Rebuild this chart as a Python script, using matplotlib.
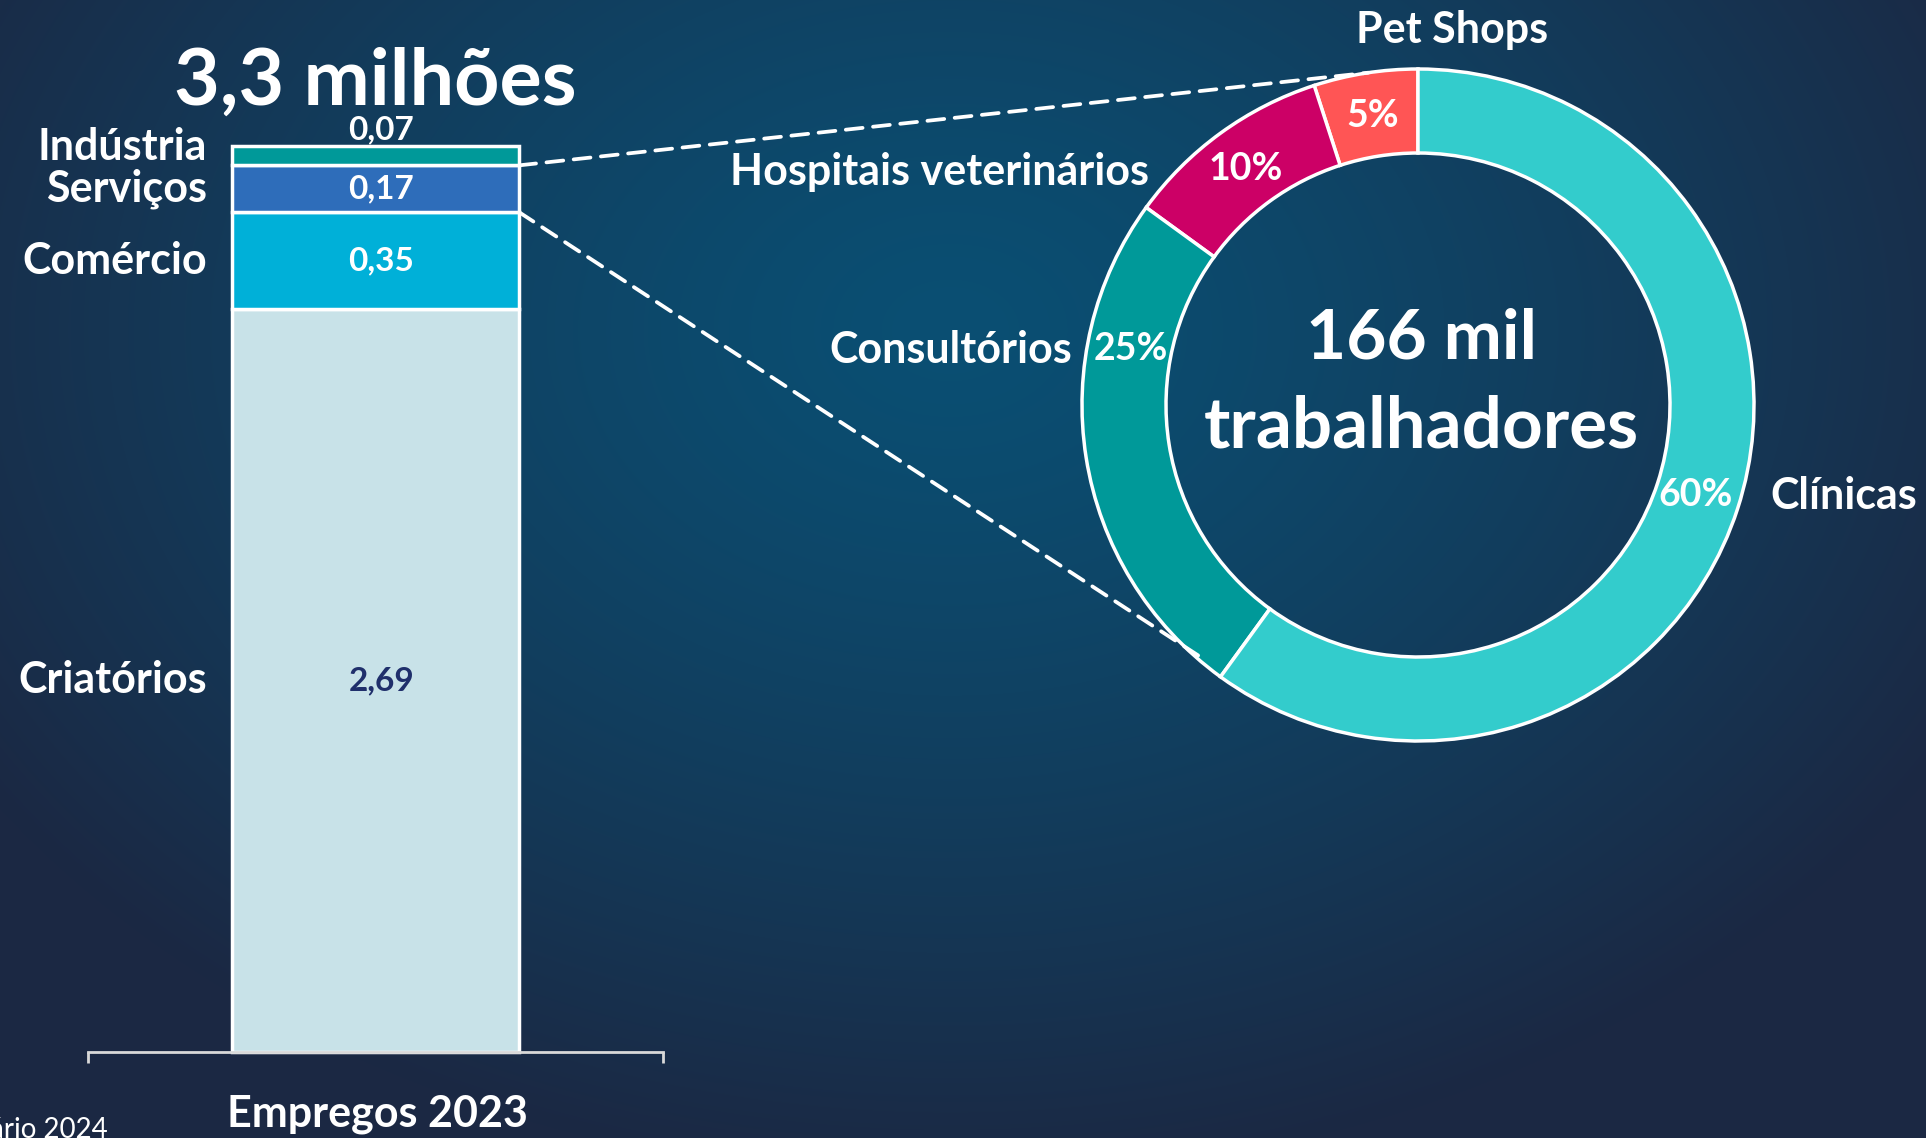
import numpy as np
import matplotlib
matplotlib.use('Agg')
import matplotlib.pyplot as plt
from matplotlib.patches import ConnectionPatch
from matplotlib.colors import to_rgb

# data
bar_cats = ['Criatórios', 'Comércio', 'Serviços', 'Indústria']
bar_vals = [2.69, 0.35, 0.17, 0.07]
bar_labels = ['2,69', '0,35', '0,17', '0,07']
bar_colors = ['#C8E2E8', '#00B0D8', '#2E6DBA', '#009999']

pie_cats = ['Pet Shops', 'Hospitais veterinários', 'Consultórios', 'Clínicas']
pie_vals = [5, 10, 25, 60]
pie_colors = ['#FF5555', '#CC0066', '#009999', '#33CCCC']

total_label = '3,3 milhões'
center_label = ['166 mil', 'trabalhadores']
bar_xlabel = 'Empregos 2023'
source_note = 'Anuário 2024'

plt.rcParams['font.family'] = ['Lato', 'DejaVu Sans']
plt.rcParams['font.weight'] = 'bold'

W, H = 1926, 1138
fig = plt.figure(figsize=(W / 100, H / 100), dpi=100)

# background radial gradient
ax_bg = fig.add_axes([0, 0, 1, 1])
ax_bg.set_zorder(-10)
yy, xx = np.mgrid[0:H, 0:W]
d = np.sqrt(((xx - 950) / 1150.0) ** 2 + ((yy - 330) / 850.0) ** 2)
d = np.clip(d, 0, 1) ** 1.3
c0 = np.array(to_rgb('#0A4F73'))
c1 = np.array(to_rgb('#1B2843'))
img = c0[None, None, :] * (1 - d[..., None]) + c1[None, None, :] * d[..., None]
ax_bg.imshow(img, aspect='auto', extent=[0, W, H, 0])
ax_bg.axis('off')

def px(x0, y0, w, h):
    # pixel box (from top-left) -> figure fraction rect
    return [x0 / W, 1 - (y0 + h) / H, w / W, h / H]

# stacked bar
ax = fig.add_axes(px(88, 146, 575, 906))
ax.set_facecolor('none')
bottom = 0
for cat, v, lab, col in zip(bar_cats, bar_vals, bar_labels, bar_colors):
    ax.bar(0.5, v, width=0.5, bottom=bottom, color=col, edgecolor='white', linewidth=2.5, clip_on=False)
    mid = bottom + v / 2
    if v < 0.1:
        ax.annotate(lab, (0.51, bottom + v), xytext=(0, 12), textcoords='offset points',
                    ha='center', va='center', color='white', fontsize=24)
        ax.annotate(cat, (0.207, mid), xytext=(0, 6), textcoords='offset points',
                    ha='right', va='center', color='white', fontsize=31)
    else:
        tc = '#1F2F6B' if v > 1 else 'white'
        ax.text(0.51, mid, lab, ha='center', va='center', color=tc, fontsize=24)
        ax.text(0.207, mid, cat, ha='right', va='center', color='white', fontsize=31)
    bottom += v
ax.set_xlim(0, 1)
ax.set_ylim(0, sum(bar_vals))
for s in ['top', 'left', 'right']:
    ax.spines[s].set_visible(False)
ax.spines['bottom'].set_color('#D9D9D9')
ax.spines['bottom'].set_linewidth(2)
ax.set_xticks([0, 1])
ax.set_xticklabels(['', ''])
ax.tick_params(axis='x', direction='out', length=8, width=2, color='#D9D9D9')
ax.set_yticks([])

ax.annotate(total_label, (0.5, sum(bar_vals)), xytext=(0, 30), textcoords='offset points',
            ha='center', va='baseline', color='white', fontsize=57)
fig.text(377 / W, 1 - 1114 / H, bar_xlabel, ha='center', va='center', color='white', fontsize=31)
fig.text(108 / W, 1 - 1130 / H, source_note, ha='right', va='center', color='white',
         fontsize=20, fontweight='normal')

# donut
axp = fig.add_axes(px(1418 - 336, 405 - 336, 672, 672))
wedges, texts, pcts = axp.pie(pie_vals, colors=pie_colors, startangle=90, counterclock=True,
                              radius=1, autopct=lambda p: '{:.0f}%'.format(p), pctdistance=0.87,
                              wedgeprops=dict(width=0.25, edgecolor='white', linewidth=2.5),
                              textprops=dict(color='white', fontsize=27))
for w in wedges:
    w.set_clip_on(False)
# shift the Consultórios percentage upward along the ring
shift = [0, 0, -20, 0]
for w, t, s in zip(wedges, pcts, shift):
    ang = np.deg2rad((w.theta1 + w.theta2) / 2 + s)
    t.set_position((0.87 * np.cos(ang), 0.87 * np.sin(ang)))
axp.set_xlim(-1, 1)
axp.set_ylim(-1, 1)
axp.axis('off')

lab_pos = [(0.10, 1.117, 'center'), (-0.80, 0.693, 'right'), (-1.03, 0.164, 'right'), (1.05, -0.27, 'left')]
for cat, (x, y, ha) in zip(pie_cats, lab_pos):
    axp.text(x, y, cat, ha=ha, va='center', color='white', fontsize=31, clip_on=False)

axp.text(0.01, 0.197, center_label[0], ha='center', va='center', color='white', fontsize=50)
axp.text(0.01, -0.066, center_label[1], ha='center', va='center', color='white', fontsize=51)

# dashed connectors from Serviços segment to the donut
serv_bottom = bar_vals[0] + bar_vals[1]
serv_top = serv_bottom + bar_vals[2]
ends = [(serv_top, 98.5, 1.0), (serv_bottom, 229.5, 0.99)]
for yb, a, r in ends:
    con = ConnectionPatch(xyA=(0.75, yb), coordsA=ax.transData,
                          xyB=(r * np.cos(np.deg2rad(a)), r * np.sin(np.deg2rad(a))), coordsB=axp.transData,
                          color='white', linewidth=2.7, linestyle=(0, (4.5, 2.8)))
    con.set_zorder(5)
    fig.add_artist(con)

plt.savefig('out.png', dpi=100)
